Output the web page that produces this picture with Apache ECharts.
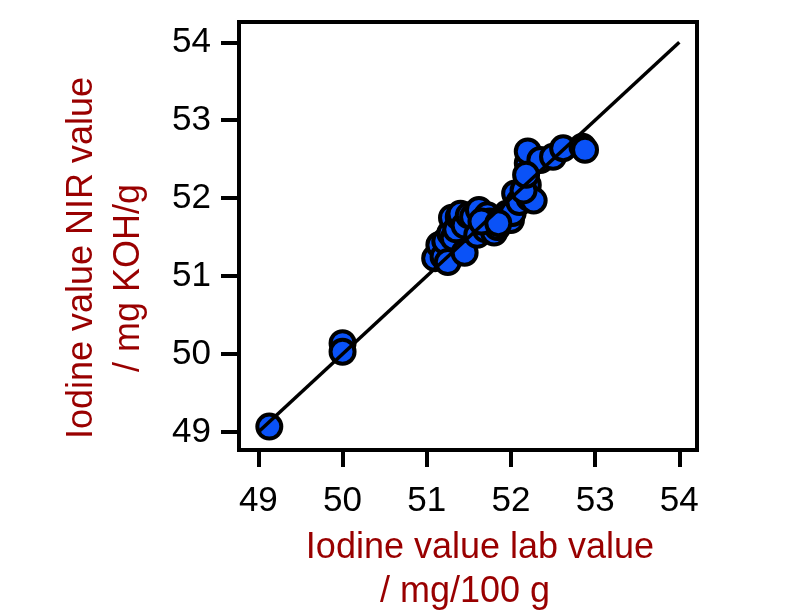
<!DOCTYPE html>
<html>
<head>
<meta charset="utf-8">
<script src="https://cdn.jsdelivr.net/npm/echarts@6/dist/echarts.min.js"></script>
<style>
  html, body { margin: 0; padding: 0; background: #fff; }
  #chart { width: 800px; height: 611px; }
</style>
</head>
<body>
<div id="chart"></div>
<script>
// lab value (x) vs NIR prediction (y)
const labValue = [
  49.13, 50.0, 50.0,
  51.1, 51.15, 51.2, 51.22, 51.25, 51.28, 51.3, 51.32, 51.35, 51.38, 51.4,
  51.45, 51.45, 51.5, 51.55, 51.6, 51.62, 51.7, 51.72, 51.75, 51.8, 51.84,
  51.9, 51.95, 52.0, 52.02, 52.05, 52.1, 52.2, 52.22, 52.2, 52.2, 52.27,
  52.35, 52.5, 52.62, 52.85, 52.88, 51.65, 51.85, 52.15, 52.18
]
const nirValue = [
  49.07, 50.14, 50.03,
  51.23, 51.4, 51.25, 51.45, 51.18, 51.55, 51.75, 51.49, 51.6, 51.76, 51.8,
  51.3, 51.65, 51.78, 51.76, 51.53, 51.85, 51.6, 51.78, 51.7, 51.56, 51.63,
  51.75, 51.8, 51.72, 51.81, 52.06, 51.95, 52.17, 52.0, 52.45, 52.6, 51.97,
  52.49, 52.53, 52.64, 52.66, 52.62, 51.7, 51.68, 52.1, 52.3
]
const refLine = [49, 54]
const tickValues = [49, 50, 51, 52, 53, 54]

const font = 'Liberation Sans, Arial, sans-serif'
const nameColor = '#990000'

const chart = echarts.init(document.getElementById('chart'))

chart.setOption({
  animation: false,
  grid: {
    left: 239,
    right: 103,
    top: 22,
    bottom: 161,
    outerBoundsMode: 'none',
    show: true,
    borderColor: '#000',
    borderWidth: 4
  },
  xAxis: {
    type: 'value',
    min: 48.77,
    max: 54.21,
    name: 'Iodine value lab value\n/ mg/100 g   ',
    nameLocation: 'middle',
    nameGap: 76,
    nameTextStyle: {
      color: nameColor,
      fontFamily: font,
      fontSize: 36,
      lineHeight: 44,
      padding: [0, 0, 0, 24]
    },
    axisLine: { lineStyle: { color: '#000', width: 4 } },
    axisTick: {
      customValues: tickValues,
      length: 17,
      lineStyle: { color: '#000', width: 4 }
    },
    axisLabel: {
      customValues: tickValues,
      margin: 34,
      color: '#000',
      fontFamily: font,
      fontSize: 35
    },
    splitLine: { show: false }
  },
  yAxis: {
    type: 'value',
    min: 48.77,
    max: 54.26,
    name: 'Iodine value NIR value\n/ mg KOH/g    ',
    nameLocation: 'middle',
    nameRotate: 90,
    nameGap: 86,
    nameTextStyle: {
      color: nameColor,
      fontFamily: font,
      fontSize: 36,
      lineHeight: 47,
      padding: [0, 44, 0, 0]
    },
    axisLine: { lineStyle: { color: '#000', width: 4 } },
    axisTick: {
      customValues: tickValues,
      length: 18,
      lineStyle: { color: '#000', width: 4 }
    },
    axisLabel: {
      customValues: tickValues,
      margin: 28,
      color: '#000',
      fontFamily: font,
      fontSize: 35
    },
    splitLine: { show: false }
  },
  series: [
    {
      type: 'scatter',
      data: labValue.map((x, i) => [x, nirValue[i]]),
      symbolSize: 24,
      itemStyle: {
        color: '#0a52f7',
        borderColor: '#000',
        borderWidth: 4,
        opacity: 1
      },
      z: 2
    },
    {
      type: 'line',
      data: refLine.map(v => [v, v]),
      symbol: 'none',
      lineStyle: { color: '#000', width: 3.5 },
      z: 3
    }
  ]
})
</script>
</body>
</html>
